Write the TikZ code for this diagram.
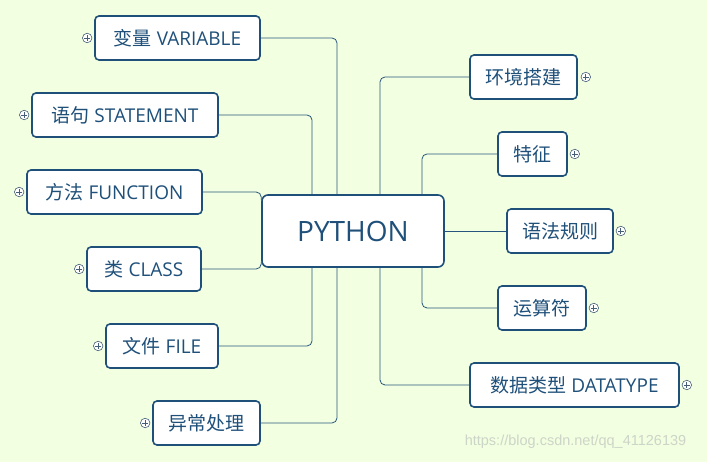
\documentclass[tikz,border=0pt]{standalone}
\usepackage{fontspec}
\setmainfont{Open Sans}
\newfontfamily\cjk{Noto Sans CJK SC}
\newfontfamily\markfont{Liberation Sans}
\usepackage{tikz}
\usetikzlibrary{positioning,calc}
\definecolor{mapbg}{RGB}{242,255,224}
\definecolor{mapblue}{RGB}{31,80,122}
\definecolor{linkblue}{RGB}{40,85,125}
\definecolor{iconblue}{RGB}{70,95,120}
\definecolor{markgray}{RGB}{205,212,200}

\begin{document}
\begin{tikzpicture}[x=1pt, y=1pt,
    topic/.style={rectangle, rounded corners=4pt, draw=mapblue, line width=1.6pt, fill=white, minimum height=44pt, inner sep=0pt, text=mapblue, font=\fontsize{19}{22}\selectfont},
    root/.style={topic, minimum width=182pt, minimum height=72pt, rounded corners=6pt, font=\fontsize{28}{32}\selectfont},
    link/.style={draw=linkblue, line width=0.8pt, rounded corners=5pt},
    plusicon/.style={circle, draw=iconblue, fill=white, line width=0.6pt, minimum size=9.5pt, inner sep=0pt,
        path picture={\draw[iconblue, line width=0.8pt]
            ([xshift=-2.8pt]path picture bounding box.center) -- ([xshift=2.8pt]path picture bounding box.center)
            ([yshift=-2.8pt]path picture bounding box.center) -- ([yshift=2.8pt]path picture bounding box.center);}}
]
\fill[mapbg] (0,0) rectangle (707,462);
\useasboundingbox (0,0) rectangle (707,462);

% Central topic
\node[root] (py) at (353,231) {PYTHON};

% Left branches
\node[topic, minimum width=165pt] (var) at (177.5,424) {{\cjk 变量} VARIABLE};
\node[topic, minimum width=186pt] (stmt) at (125,347) {{\cjk 语句} STATEMENT};
\node[topic, minimum width=175pt] (func) at (114.5,270) {{\cjk 方法} FUNCTION};
\node[topic, minimum width=114pt] (cls) at (144,193) {{\cjk 类} CLASS};
\node[topic, minimum width=112pt] (file) at (162,116) {{\cjk 文件} FILE};
\node[topic, minimum width=107pt] (exc) at (206.5,39) {\cjk 异常处理};

% Right branches
\node[topic, minimum width=107pt] (env) at (523.5,385) {\cjk 环境搭建};
\node[topic, minimum width=69pt] (feat) at (532.5,308) {\cjk 特征};
\node[topic, minimum width=106pt] (syn) at (560,231) {\cjk 语法规则};
\node[topic, minimum width=88pt] (ops) at (542,154) {\cjk 运算符};
\node[topic, minimum width=209pt] (dtype) at (574.5,77) {{\cjk 数据类型} DATATYPE};

% Connectors
\draw[link] (var.east) -| ([xshift=-16pt]py.north);
\draw[link] (stmt.east) -| ([xshift=-41pt]py.north);
\draw[link] (func.east) -| ([yshift=-6pt]py.north west);
\draw[link] (cls.east) -| ([yshift=6pt]py.south west);
\draw[link] (file.east) -| ([xshift=-41pt]py.south);
\draw[link] (exc.east) -| ([xshift=-16pt]py.south);
\draw[link] (env.west) -| ([xshift=27pt]py.north);
\draw[link] (feat.west) -| ([xshift=69pt]py.north);
\draw[link] (syn.west) -- (py.east);
\draw[link] (ops.west) -| ([xshift=69pt]py.south);
\draw[link] (dtype.west) -| ([xshift=27pt]py.south);

% Expand icons
\node[plusicon] (varp) at ([xshift=-7pt]var.west) {};
\node[plusicon] (stmtp) at ([xshift=-7pt]stmt.west) {};
\node[plusicon] (funcp) at ([xshift=-7pt]func.west) {};
\node[plusicon] (clsp) at ([xshift=-7pt]cls.west) {};
\node[plusicon] (filep) at ([xshift=-7pt]file.west) {};
\node[plusicon] (excp) at ([xshift=-7pt]exc.west) {};
\node[plusicon] (envp) at ([xshift=8pt]env.east) {};
\node[plusicon] (featp) at ([xshift=7pt]feat.east) {};
\node[plusicon] (synp) at ([xshift=7pt]syn.east) {};
\node[plusicon] (opsp) at ([xshift=7pt]ops.east) {};
\node[plusicon] (dtypep) at ([xshift=7pt]dtype.east) {};

% Watermark
\node[text=markgray, font=\markfont\fontsize{14.5}{16}\selectfont] (mark) at (575.5,20) {https://blog.csdn.net/qq\_41126139};
\end{tikzpicture}
\end{document}
